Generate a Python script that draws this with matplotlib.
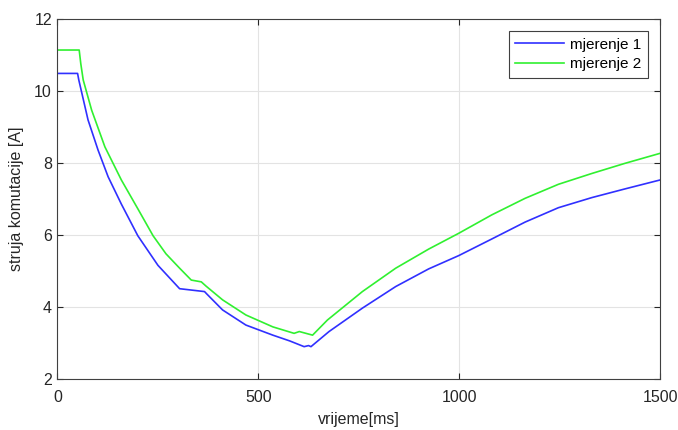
import numpy as np
import matplotlib
matplotlib.use('Agg')
import matplotlib.pyplot as plt

plt.rcParams['font.family'] = ['Liberation Sans', 'DejaVu Sans']

# mjerenje 1 (blue)
t1 = [0, 50, 53, 76, 101, 126, 159, 200, 250, 304, 335, 366, 372, 411, 469, 536,
      578, 614, 625, 631, 676, 759, 842, 924, 999, 1081, 1164, 1247, 1330, 1412, 1500]
i1 = [10.48, 10.48, 10.30, 9.19, 8.35, 7.61, 6.85, 5.97, 5.15, 4.50, 4.46, 4.42, 4.35,
      3.91, 3.49, 3.21, 3.05, 2.89, 2.92, 2.89, 3.31, 3.96, 4.56, 5.05, 5.42, 5.88,
      6.35, 6.75, 7.03, 7.27, 7.52]

# mjerenje 2 (green)
t2 = [0, 54, 58, 64, 85, 118, 159, 200, 238, 270, 304, 333, 358, 370, 411, 469, 536,
      589, 602, 635, 672, 759, 842, 924, 999, 1081, 1164, 1247, 1330, 1412, 1500]
i2 = [11.13, 11.13, 10.75, 10.30, 9.46, 8.44, 7.52, 6.72, 5.97, 5.47, 5.07, 4.74, 4.69,
      4.57, 4.19, 3.77, 3.44, 3.26, 3.31, 3.21, 3.63, 4.42, 5.07, 5.60, 6.04, 6.55,
      7.01, 7.40, 7.70, 7.98, 8.26]

xticks = [0, 500, 1000, 1500]
yticks = [2, 4, 6, 8, 10, 12]

fig = plt.figure(figsize=(6.78, 4.30), dpi=100)
ax = fig.add_axes([0.0848, 0.1193, 0.8887, 0.8372])

ax.plot(t1, i1, color='#3030ff', lw=1.2, label='mjerenje 1')
ax.plot(t2, i2, color='#30f030', lw=1.2, label='mjerenje 2')

ax.set_xlim(0, 1500)
ax.set_ylim(2, 12)
ax.set_xticks(xticks)
ax.set_yticks(yticks)
ax.grid(True, color='#e3e3e3', lw=0.8)
ax.set_axisbelow(True)
ax.tick_params(direction='in', top=True, right=True, length=4, labelsize=11.5,
               colors='#262626')
ax.tick_params(axis='x', pad=8)
ax.tick_params(axis='y', pad=4)
for s in ax.spines.values():
    s.set_color('#404040')
    s.set_linewidth(0.8)

ax.set_xlabel('vrijeme[ms]', fontsize=11.5, color='#262626', labelpad=5)
ax.set_ylabel('struja komutacije [A]', fontsize=11.5, color='#262626', labelpad=7)

leg = ax.legend(loc='upper right', fontsize=11, fancybox=False, framealpha=1,
                edgecolor='#404040', handlelength=3.2, borderaxespad=0.8,
                borderpad=0.45, labelspacing=0.35, handletextpad=0.35)
leg.get_frame().set_linewidth(0.8)

fig.savefig('out.png', dpi=100, facecolor='white')
